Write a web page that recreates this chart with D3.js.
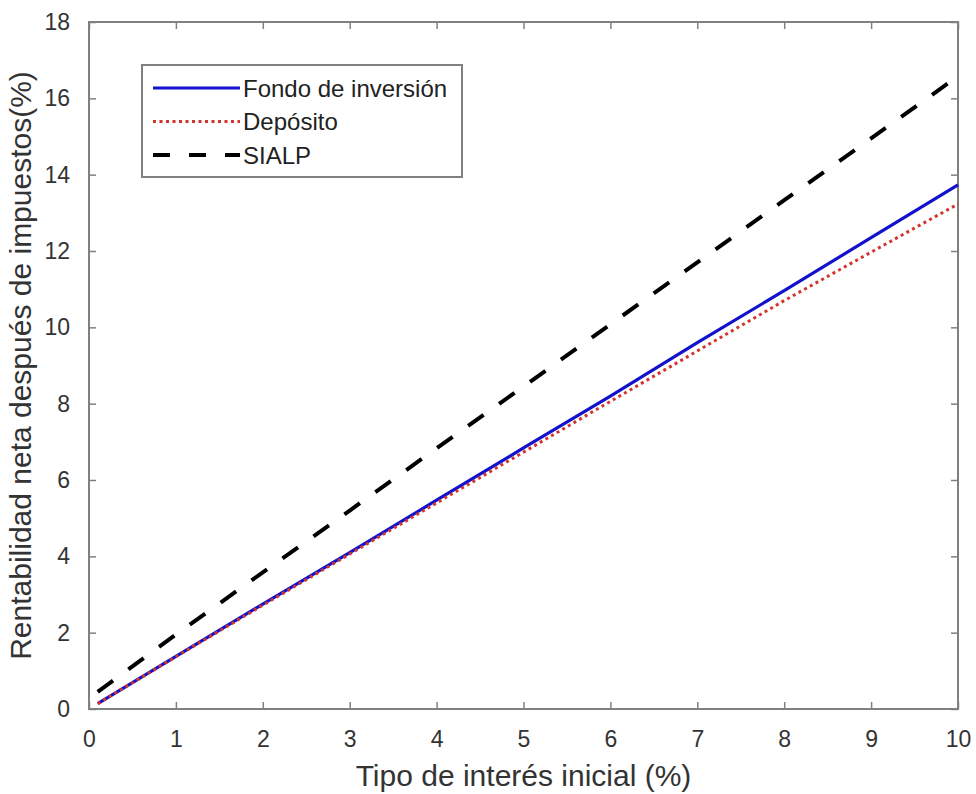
<!DOCTYPE html>
<html>
<head>
<meta charset="utf-8">
<script src="https://cdn.jsdelivr.net/npm/d3@7"></script>
<style>
  body { margin: 0; background: #fff; }
  svg text { font-family: "Liberation Sans", Arial, sans-serif; }
</style>
</head>
<body>
<div id="chart"></div>
<script>
// data
var tipo     = [0.1, 1, 2, 3, 4, 5, 6, 7, 8, 9, 10];
var fondo    = [0.14, 1.38, 2.75, 4.1, 5.47, 6.84, 8.2, 9.6, 10.96, 12.35, 13.73];
var deposito = [0.14, 1.37, 2.72, 4.06, 5.4, 6.73, 8.06, 9.38, 10.7, 11.97, 13.23];
var sialp    = [0.45, 1.95, 3.58, 5.2, 6.83, 8.45, 10.08, 11.7, 13.33, 14.95, 16.58];
var xTicks = d3.range(0, 11);
var yTicks = d3.range(0, 19, 2);

var W = 976, H = 794;
var margin = {top: 22, right: 18, bottom: 85, left: 89},
    width = W - margin.left - margin.right,
    height = H - margin.top - margin.bottom;

var svg = d3.select("#chart").append("svg")
    .attr("width", W)
    .attr("height", H);

var g = svg.append("g")
    .attr("transform", "translate(" + margin.left + "," + margin.top + ")");

var x = d3.scaleLinear().domain([0, 10]).range([0, width]);
var y = d3.scaleLinear().domain([0, 18]).range([height, 0]);

var axisColor = "#808080", textColor = "#333";

// axes, ticks pointing inward like matlab
function styleAxis(sel, showText) {
    sel.select(".domain").remove();
    sel.selectAll(".tick line").attr("stroke", axisColor).attr("stroke-width", 1.5);
    sel.selectAll(".tick text")
        .attr("fill", textColor)
        .style("font-size", "23px")
        .style("display", showText ? null : "none");
}

g.append("g")
    .attr("transform", "translate(0," + height + ")")
    .call(d3.axisBottom(x).tickValues(xTicks).tickSize(-7).tickPadding(22).tickFormat(d3.format("d")))
    .call(styleAxis, true);
g.append("g")
    .call(d3.axisTop(x).tickValues(xTicks).tickSize(-7))
    .call(styleAxis, false);
g.append("g")
    .call(d3.axisLeft(y).tickValues(yTicks).tickSize(-7).tickPadding(19).tickFormat(d3.format("d")))
    .call(styleAxis, true);
g.append("g")
    .attr("transform", "translate(" + width + ",0)")
    .call(d3.axisRight(y).tickValues(yTicks).tickSize(-7))
    .call(styleAxis, false);

g.append("rect")
    .attr("width", width)
    .attr("height", height)
    .attr("fill", "none")
    .attr("stroke", axisColor)
    .attr("stroke-width", 2);

var series = [
    {name: "Fondo de inversión", values: fondo, color: "#1212cc", dash: null, w: 3.2},
    {name: "Depósito", values: deposito, color: "#d2352c", dash: "3,3.5", w: 3},
    {name: "SIALP", values: sialp, color: "#000", dash: "19,19", w: 4}
];

var line = d3.line()
    .x(function(d, i) { return x(tipo[i]); })
    .y(function(d) { return y(d); });

g.selectAll(".serie")
    .data(series)
    .enter().append("path")
    .attr("class", "serie")
    .attr("d", function(d) { return line(d.values); })
    .attr("fill", "none")
    .attr("stroke", function(d) { return d.color; })
    .attr("stroke-width", function(d) { return d.w; })
    .attr("stroke-dasharray", function(d) { return d.dash; });

// legend
var leg = svg.append("g").attr("transform", "translate(142,65)");
leg.append("rect")
    .attr("width", 320)
    .attr("height", 112)
    .attr("fill", "#fff")
    .attr("stroke", axisColor)
    .attr("stroke-width", 2);

var item = leg.selectAll(".item")
    .data(series)
    .enter().append("g")
    .attr("transform", function(d, i) { return "translate(0," + (23 + i * 33.5) + ")"; });
item.append("line")
    .attr("x1", 11).attr("x2", 98)
    .attr("stroke", function(d) { return d.color; })
    .attr("stroke-width", function(d) { return d.w; })
    .attr("stroke-dasharray", function(d) { return d.name == "SIALP" ? "17,19" : d.dash; });
item.append("text")
    .attr("x", 101)
    .attr("dy", "0.36em")
    .attr("fill", "#222")
    .style("font-size", "24px")
    .text(function(d) { return d.name; });

// axis titles
svg.append("text")
    .attr("x", margin.left + width / 2)
    .attr("y", 786)
    .attr("text-anchor", "middle")
    .attr("fill", textColor)
    .style("font-size", "30px")
    .text("Tipo de interés inicial (%)");

svg.append("text")
    .attr("transform", "translate(31," + (margin.top + height / 2) + ") rotate(-90)")
    .attr("text-anchor", "middle")
    .attr("fill", textColor)
    .style("font-size", "30px")
    .text("Rentabilidad neta después de impuestos(%)");
</script>
</body>
</html>
